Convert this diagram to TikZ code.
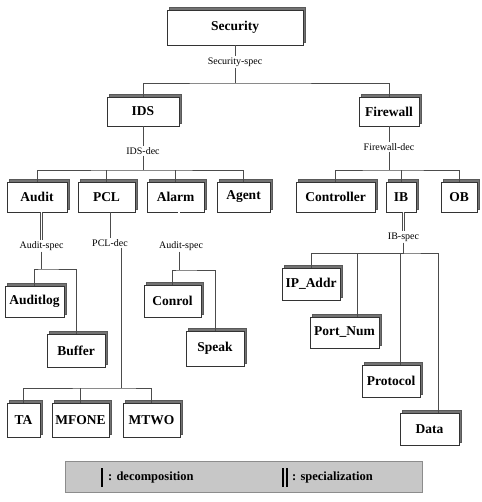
\documentclass[tikz,border=0pt]{standalone}
\usepackage{fontspec}
\setmainfont{Liberation Serif}
\usetikzlibrary{shadows}
\tikzset{
  modbox/.style={draw=black!80, line width=0.55pt, fill=white, inner sep=0pt,
    font=\fontsize{13.5}{15}\selectfont\bfseries,
    copy shadow={shadow xshift=2.5pt, shadow yshift=2.5pt, fill=black!55, draw=black!65, line width=0.4pt}},
  relname/.style={inner sep=1pt, font=\fontsize{10}{12}\selectfont},
  decline/.style={draw=black!70, line width=0.5pt},
  specline/.style={draw=black!70, line width=0.45pt, double, double distance=1.8pt},
  legendbox/.style={draw=black!45, fill=black!22, line width=0.5pt},
  legtext/.style={inner sep=0pt, anchor=west, font=\fontsize{12.5}{14}\selectfont\bfseries}
}
\newcommand{\modbox}[5]{\node[modbox, minimum width=#4pt, minimum height=#5pt] (#1) at (#2) {#3}}

\begin{document}
\begin{tikzpicture}[x=1pt, y=-1pt]
            \useasboundingbox (0,0) rectangle (481,502);

            \modbox{sec}{235,27.5}{Security}{136}{35};
            \modbox{ids}{143,111.5}{IDS}{72}{29};
            \modbox{fw}{389,111.5}{Firewall}{60}{29};

            \modbox{audit}{37,197}{Audit}{60}{30};
            \modbox{pcl}{106.5,197}{PCL}{57}{30};
            \modbox{alarm}{175.5,197}{Alarm}{57}{30};
            \modbox{agent}{243.5,197}{Agent}{53}{30};
            \modbox{ctrl}{335.5,197}{Controller}{79}{30};
            \modbox{ib}{401,197}{IB}{30}{30};
            \modbox{ob}{459,197}{OB}{36}{30};

            \modbox{auditlog}{34.5,301.5}{Auditlog}{59}{31};
            \modbox{buffer}{76,350.5}{Buffer}{58}{33};
            \modbox{conrol}{172.5,301}{Conrol}{57}{32};
            \modbox{speak}{215,348.5}{Speak}{58}{35};
            \modbox{ta}{23.5,420}{TA}{33}{34};
            \modbox{mfone}{80.5,420}{MFONE}{57}{34};
            \modbox{mtwo}{151.5,420}{MTWO}{57}{34};

            \modbox{ipaddr}{311,284}{IP\_Addr}{58}{32};
            \modbox{portnum}{344.5,332.5}{Port\_Num}{69}{31};
            \modbox{protocol}{391,381}{Protocol}{58}{32};
            \modbox{data}{429.5,429}{Data}{59}{32};

            \node[relname] (secspec) at (235,62) {Security-spec};
            \node[relname] (idsdec) at (143,151) {IDS-dec};
            \node[relname] (fwdec) at (389,147) {Firewall-dec};
            \node[relname] (auditspec) at (41.5,246) {Audit-spec};
            \node[relname] (pcldec) at (110,243) {PCL-dec};
            \node[relname] (alarmspec) at (181,246) {Audit-spec};
            \node[relname] (ibspec) at (403.5,237) {IB-spec};

            \coordinate (secbus) at (235,83);
            \coordinate (idsbus) at (143,170);
            \coordinate (fwbus) at (389,170);
            \coordinate (auditbus) at (41.5,269);
            \coordinate (pclbus) at (121,388);
            \coordinate (alarmbus) at (179,270);
            \coordinate (ibbus) at (403.5,253);

            \draw[decline] (sec) -- (secspec);
            \draw[decline] (secspec) -- (secbus);
            \draw[decline] (ids) |- (secbus) -| (fw);

            \draw[decline] (ids) -- (idsdec);
            \draw[decline] (idsdec) -- (idsbus);
            \draw[decline] (audit) |- (idsbus) -| (agent);
            \draw[decline] (pcl) -- (pcl |- idsbus);
            \draw[decline] (alarm) -- (alarm |- idsbus);

            \draw[decline] (fw) -- (fwdec);
            \draw[decline] (fwdec) -- (fwbus);
            \draw[decline] (ctrl) |- (fwbus) -| (ob);
            \draw[decline] (ib) -- (ib |- fwbus);

            \draw[specline] (auditspec |- audit.south) -- (auditspec);
            \draw[decline] (auditspec) -- (auditbus);
            \draw[decline] (auditlog) |- (auditbus) -| (buffer);

            \draw[decline] (pcldec |- pcl.south) -- (pcldec);
            \draw[decline] (pclbus |- pcldec.south) -- (pclbus);
            \draw[decline] (ta) |- (pclbus) -| (mtwo);
            \draw[decline] (mfone) -- (mfone |- pclbus);

            \draw[specline] (alarmbus |- alarm.south) -- (alarmbus |- alarmspec.north);
            \draw[decline] (alarmbus |- alarmspec.south) -- (alarmbus);
            \draw[decline] (conrol) |- (alarmbus) -| (speak);

            \draw[specline] (ibspec |- ib.south) -- (ibspec);
            \draw[decline] (ibspec) -- (ibbus);
            \draw[decline] (ipaddr) |- (ibbus) -| ([xshift=8.5pt]data.north);
            \draw[decline] ([xshift=12.5pt]portnum.north) |- (ibbus);
            \draw[decline] ([xshift=9pt]protocol.north) |- (ibbus);

            \node[legendbox, minimum width=357pt, minimum height=31pt] (legend) at (243.5,476.5) {};
            \draw[line width=1.6pt] (102,468) -- (102,487);
            \node[legtext] (dectext) at (108,477.5) {: decomposition};
            \draw[line width=1.2pt] (283,468) -- (283,487);
            \draw[line width=1.2pt] (287,468) -- (287,487);
            \node[legtext] (spectext) at (292,477.5) {: specialization};
        \end{tikzpicture}
\end{document}
